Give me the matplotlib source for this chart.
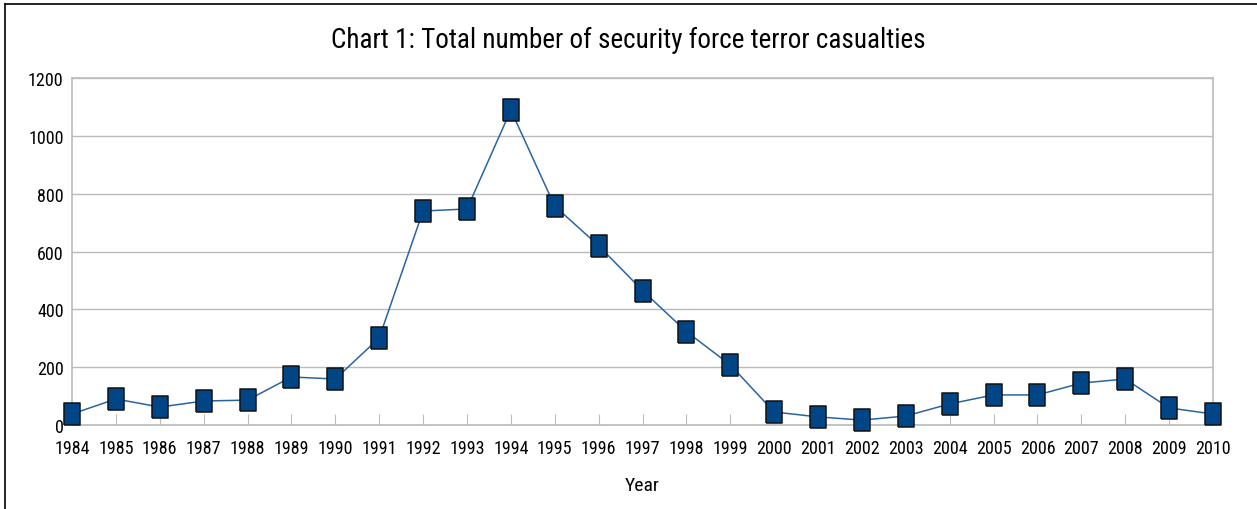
import matplotlib
matplotlib.use('Agg')
import matplotlib.pyplot as plt
from matplotlib.lines import Line2D
from matplotlib import font_manager

# donnees
annees = list(range(1984, 2011))
victimes = [38, 90, 62, 83, 86, 166, 159, 301, 740, 747, 1089, 757, 620, 465, 323,
            208, 45, 28, 17, 31, 73, 104, 104, 145, 159, 59, 38]
yticks = [0, 200, 400, 600, 800, 1000, 1200]

# police etroite si disponible
noms = set(f.name for f in font_manager.fontManager.ttflist)
etroite = [n for n in ['Liberation Sans Narrow', 'DejaVu Sans Condensed', 'Roboto Condensed',
                       'Open Sans Condensed', 'Noto Sans Condensed'] if n in noms]
condensee = False
if etroite:
    plt.rcParams['font.family'] = [etroite[0], 'DejaVu Sans']
    condensee = True
else:
    plt.rcParams['font.family'] = ['Liberation Sans', 'DejaVu Sans']
    # essai via font.stretch
    for f in font_manager.fontManager.ttflist:
        if f.stretch in ('condensed', 'semi-condensed', 'extra-condensed') and f.name in ('Open Sans', 'Noto Sans', 'Roboto', 'DejaVu Sans', 'Inter'):
            plt.rcParams['font.family'] = [f.name, 'DejaVu Sans']
            plt.rcParams['font.stretch'] = f.stretch
            condensee = True
            break

taille_ticks = 13 if condensee else 11.5
taille_titre = 19.5 if condensee else 18.5

fig = plt.figure(figsize=(12.57, 5.10), dpi=100)
ax = fig.add_axes([72/1257, 84/510, (1213-72)/1257, (426-79)/510])

# marqueur rectangulaire (plus haut que large)
rect = [(-0.72, -1), (0.72, -1), (0.72, 1), (-0.72, 1), (-0.72, -1)]
ax.plot(annees, victimes, color='#2a64a0', lw=1.1, marker=rect, markersize=16,
        markerfacecolor='#004586', markeredgecolor='#111111', markeredgewidth=1.1,
        clip_on=False, zorder=3)

ax.set_xlim(1984, 2010)
ax.set_ylim(0, 1200)
ax.set_xticks(annees)
ax.set_yticks(yticks)
ax.tick_params(axis='x', direction='in', length=8, color='#bbbbbb', labelsize=taille_ticks, pad=10)
ax.tick_params(axis='y', length=0, labelsize=taille_ticks, pad=6)
ax.grid(axis='y', color='#bbbbbb', lw=1)
ax.set_axisbelow(True)
for s in ax.spines.values():
    s.set_color('#bbbbbb')
    s.set_linewidth(1.2)

ax.set_xlabel('Year', fontsize=14, labelpad=14)
fig.text(0.5, 1 - 40/510, 'Chart 1: Total number of security force terror casualties',
         ha='center', va='center', fontsize=taille_titre)

# cadre noir du document
fig.add_artist(Line2D([5/1257, 5/1257], [0, 1 - 5/510], color='black', lw=1.2, transform=fig.transFigure))
fig.add_artist(Line2D([5/1257, 1], [1 - 5/510, 1 - 5/510], color='black', lw=1.2, transform=fig.transFigure))

fig.savefig('out.png', dpi=100)
